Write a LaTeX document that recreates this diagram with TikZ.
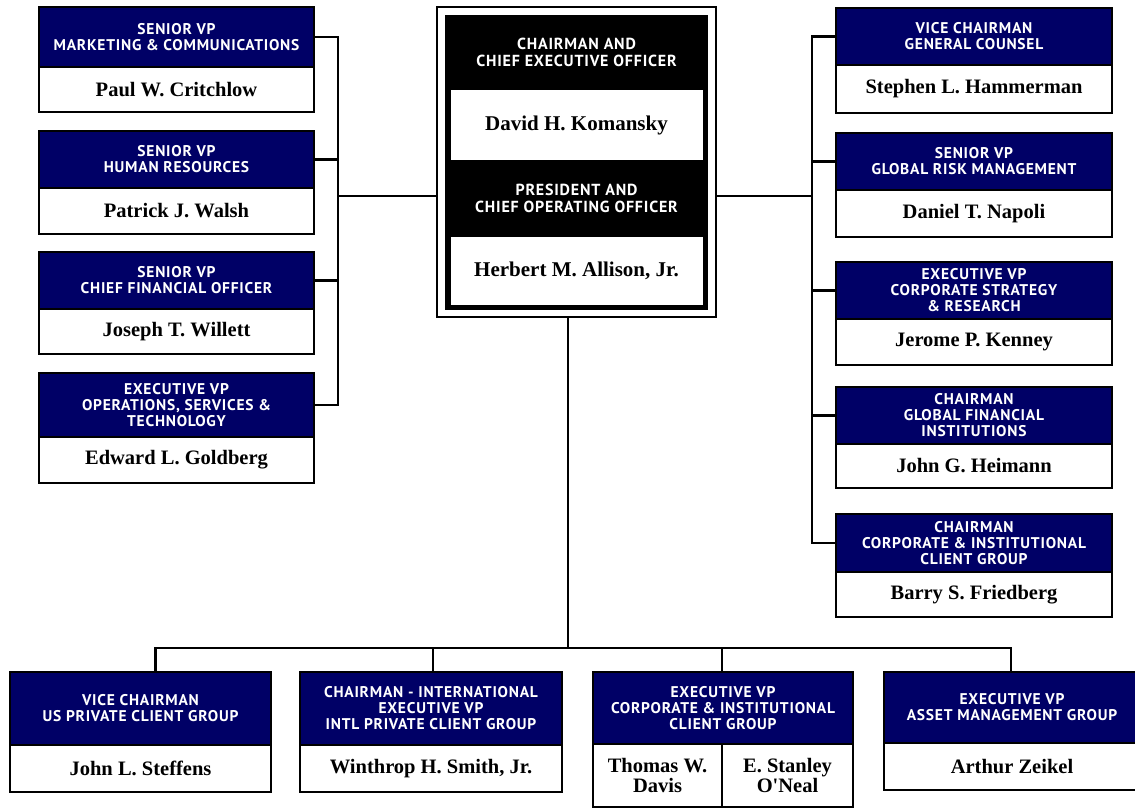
\documentclass[tikz,border=0pt]{standalone}
\usepackage{fontspec}
\setmainfont{Liberation Serif}
\newfontfamily\hfont{PT Sans}[LetterSpace=5]
\definecolor{navy}{RGB}{0,0,102}
\tikzset{
  hdr/.style={draw=black, fill=navy, line width=2.5pt, inner sep=0pt, outer sep=0pt,
    text=white, align=center, font=\hfont\bfseries\fontsize{15.5}{16}\selectfont},
  nm/.style={draw=black, fill=white, line width=2.5pt, inner sep=0pt, outer sep=0pt,
    align=center, font=\bfseries\fontsize{20.5}{19}\selectfont},
  ceohdr/.style={inner sep=0pt, outer sep=0pt, text=white, align=center,
    font=\hfont\bfseries\fontsize{16}{17}\selectfont},
  ceonm/.style={fill=white, inner sep=0pt, outer sep=0pt, align=center,
    font=\bfseries\fontsize{21}{20}\selectfont},
  conn/.style={line width=2.5pt, black}
}
% #1 name, #2 x1, #3 x2, #4 ytop, #5 ymid, #6 ybot, #7 header, #8 person
\newcommand\orgbox[8]{%
  \node[hdr, minimum width={(#3-#2)*1pt}, minimum height={(#5-#4)*1pt}]
    (#1h) at ({(#2+#3)/2},{(#4+#5)/2}) {#7};
  \node[nm, minimum width={(#3-#2)*1pt}, minimum height={(#6-#5)*1pt}]
    (#1n) at ({(#2+#3)/2},{(#5+#6)/2}) {#8};
}
\begin{document}
\begin{tikzpicture}[x=1pt,y=-1pt]
\useasboundingbox (0,0) rectangle (1135,810);
\clip (0,0) rectangle (1135,810);
\fill[white] (0,0) rectangle (1135,810);

% central double frame
\node[draw=black, line width=2.2pt, inner sep=0pt, outer sep=0pt,
  minimum width=279pt, minimum height=310pt] (frame) at (576.5,162) {};
\node[fill=black, inner sep=0pt, outer sep=0pt,
  minimum width=263pt, minimum height=295pt] (inner) at (576.5,162.5) {};
\node[ceohdr] (ceoh) at (576.5,52.5) {CHAIRMAN AND\\CHIEF EXECUTIVE OFFICER};
\node[ceonm, minimum width=252pt, minimum height=70pt] (ceon) at (576.5,125) {David H. Komansky};
\node[ceohdr] (cooh) at (576.5,198.5) {PRESIDENT  AND\\CHIEF OPERATING OFFICER};
\node[ceonm, minimum width=252pt, minimum height=68pt] (coon) at (576.5,271) {Herbert M. Allison, Jr.};

% left column
\orgbox{l1}{39}{314}{7}{67}{112}{SENIOR VP\\MARKETING \& COMMUNICATIONS}{Paul W. Critchlow}
\orgbox{l2}{39}{314}{131}{188}{234}{SENIOR VP\\HUMAN RESOURCES}{Patrick J. Walsh}
\orgbox{l3}{39}{314}{252}{309}{354}{SENIOR VP\\CHIEF FINANCIAL OFFICER}{Joseph T. Willett}
\orgbox{l4}{39}{314}{373}{437}{483}{EXECUTIVE VP\\OPERATIONS, SERVICES \&\\TECHNOLOGY}{Edward L. Goldberg}

% right column
\orgbox{r1}{836}{1112}{8}{65}{113}{VICE CHAIRMAN\\GENERAL COUNSEL}{Stephen L. Hammerman}
\orgbox{r2}{836}{1112}{133}{190}{237}{SENIOR VP\\GLOBAL RISK MANAGEMENT}{Daniel T. Napoli}
\orgbox{r3}{836}{1112}{262}{319}{365}{EXECUTIVE VP\\CORPORATE STRATEGY\\\& RESEARCH}{Jerome P. Kenney}
\orgbox{r4}{836}{1112}{387}{444}{488}{CHAIRMAN\\GLOBAL FINANCIAL\\INSTITUTIONS}{John G. Heimann}
\orgbox{r5}{836}{1112}{514}{572}{617}{CHAIRMAN\\CORPORATE \& INSTITUTIONAL\\CLIENT GROUP}{Barry S. Friedberg}

% bottom row
\orgbox{b1}{10}{271}{672}{745}{792}{VICE CHAIRMAN\\US PRIVATE CLIENT GROUP}{John L. Steffens}
\orgbox{b2}{300}{562}{672}{745}{792}{CHAIRMAN - INTERNATIONAL\\EXECUTIVE VP\\INTL PRIVATE CLIENT GROUP}{Winthrop H.\ Smith, Jr.}
\node[hdr, minimum width=260pt, minimum height=72pt] (b3h) at (723,708) {EXECUTIVE VP\\CORPORATE \& INSTITUTIONAL\\CLIENT GROUP};
\node[nm, minimum width=129pt, minimum height=63pt, font=\bfseries\fontsize{20.5}{19.5}\selectfont] (b3a) at (657.5,775.5) {Thomas W.\\Davis};
\node[nm, minimum width=131pt, minimum height=63pt, font=\bfseries\fontsize{20.5}{19.5}\selectfont] (b3b) at (787.5,775.5) {E. Stanley\\O\textquotesingle Neal};
\orgbox{b4}{884}{1140}{672}{743}{790}{EXECUTIVE VP\\ASSET MANAGEMENT GROUP}{Arthur Zeikel}

% junctions
\coordinate (lj) at (338,196);
\coordinate (rj) at (812,196);
\coordinate (bj) at (568,648);

% connectors
\draw[conn] (l1h.east) -| (lj);
\draw[conn] (l2h.east) -| (lj);
\draw[conn] (l3h.east) -| (lj);
\draw[conn] (l4h.east) -| (lj);
\draw[conn] (lj) -- (lj -| frame.west);

\draw[conn] (r1h.west) -| (rj);
\draw[conn] (r2h.west) -| (rj);
\draw[conn] (r3h.west) -| (rj);
\draw[conn] (r4h.west) -| (rj);
\draw[conn] (r5h.west) -| (rj);
\draw[conn] (rj) -- (rj -| frame.east);

\draw[conn] (bj |- frame.south) -- (bj);
\draw[conn] (bj) -| ([xshift=15pt]b1h.north);
\draw[conn] (bj) -| ([xshift=2pt]b2h.north);
\draw[conn] (bj) -| ([xshift=-1pt]b3h.north);
\draw[conn] (bj) -| ([xshift=-1pt]b4h.north);
\end{tikzpicture}
\end{document}
